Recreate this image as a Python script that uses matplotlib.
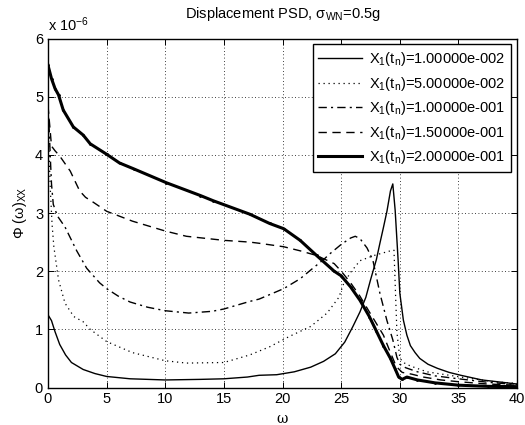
import matplotlib
matplotlib.use("Agg")
import matplotlib.pyplot as plt

plt.rcParams['font.family'] = ['Liberation Sans', 'DejaVu Sans']
plt.rcParams['mathtext.fontset'] = 'custom'
plt.rcParams['mathtext.rm'] = 'Liberation Sans'
plt.rcParams['mathtext.it'] = 'Liberation Sans'

# PSD values in units of 1e-6
x1 = [0, 0.3, 0.6, 1, 1.5, 2, 3, 4, 5, 7, 10, 13, 15, 17, 18, 19.5, 21, 22.4, 23.5, 24.5,
      25.3, 26, 26.6, 27.1, 27.5, 28, 28.3, 28.6, 28.9, 29.2, 29.4, 29.6, 29.85, 30.0, 30.3,
      30.6, 30.9, 31.3, 31.7, 32.4, 33.2, 34.2, 35.2, 37, 40]
y1 = [1.25, 1.15, 0.96, 0.74, 0.56, 0.43, 0.31, 0.24, 0.19, 0.15, 0.13, 0.14, 0.15, 0.18, 0.21,
      0.22, 0.27, 0.35, 0.45, 0.58, 0.78, 1.05, 1.3, 1.55, 1.85, 2.2, 2.48, 2.75, 3.03, 3.38,
      3.5, 3.05, 2.2, 1.62, 1.16, 0.9, 0.72, 0.6, 0.5, 0.4, 0.33, 0.26, 0.21, 0.13, 0.06]

x2 = [0, 0.1, 0.2, 0.35, 0.5, 0.9, 1.45, 2.2, 3.0, 3.6, 5, 7.2, 10, 11.8, 15, 17.2, 18.9,
      20.6, 22.4, 23.8, 24.8, 25.2, 25.8, 26.6, 27.8, 29.2, 29.5, 29.75, 30.0, 30.4, 30.9,
      32.3, 35.2, 38, 40]
y2 = [4.5, 4.0, 3.4, 2.8, 2.42, 1.85, 1.45, 1.22, 1.13, 1.0, 0.79, 0.6, 0.46, 0.42, 0.43,
      0.56, 0.7, 0.88, 1.05, 1.28, 1.55, 1.78, 1.98, 2.18, 2.27, 2.35, 2.36, 0.95, 0.5, 0.42,
      0.37, 0.27, 0.18, 0.1, 0.07]

x3 = [0, 0.1, 0.2, 0.3, 0.45, 0.8, 1.45, 2.45, 3.3, 4.4, 5, 6, 7, 8.5, 10, 12, 14, 15, 17.2,
      18, 20.1, 21.5, 22.4, 23.5, 24.1, 25, 25.8, 26.2, 26.6, 27.2, 27.7, 28.3, 28.9, 29.4,
      29.75, 30.0, 30.5, 31.5, 33, 35, 37.5, 40]
y3 = [4.85, 4.45, 3.95, 3.5, 3.15, 2.95, 2.76, 2.35, 2.05, 1.8, 1.7, 1.57, 1.47, 1.38, 1.32,
      1.28, 1.31, 1.35, 1.48, 1.52, 1.7, 1.87, 2.02, 2.2, 2.31, 2.46, 2.57, 2.6, 2.56, 2.4,
      2.19, 1.62, 1.15, 0.82, 0.52, 0.4, 0.34, 0.27, 0.2, 0.15, 0.09, 0.05]

x4 = [0, 0.15, 0.3, 0.6, 1.0, 1.9, 2.7, 3.2, 3.9, 5, 7.2, 10, 11.8, 15, 17.2, 18, 20.1, 21.5,
      22.9, 24.4, 25.0, 25.8, 26.6, 27.4, 28.0, 28.6, 29.2, 29.7, 30.2, 31, 32, 33.5, 35,
      37.5, 40]
y4 = [4.85, 4.5, 4.15, 4.07, 3.98, 3.72, 3.38, 3.27, 3.18, 3.03, 2.86, 2.69, 2.6, 2.53, 2.5,
      2.48, 2.42, 2.35, 2.27, 2.13, 2.0, 1.8, 1.57, 1.3, 1.1, 0.9, 0.6, 0.36, 0.26, 0.23, 0.18,
      0.13, 0.1, 0.06, 0.04]

x5 = [0, 0.3, 0.6, 0.9, 1.3, 2.16, 3.0, 3.6, 5.0, 6.1, 7.3, 10.1, 13, 14.1, 17.2, 18.9, 20.1,
      21.5, 22.9, 24.4, 25.0, 25.8, 26.6, 27.4, 28.0, 28.6, 29.2, 29.6, 29.9, 30.2, 30.6,
      31.5, 33, 35, 37.5, 40]
y5 = [5.54, 5.31, 5.14, 5.03, 4.77, 4.48, 4.34, 4.19, 4.01, 3.86, 3.76, 3.52, 3.3, 3.21,
      2.98, 2.82, 2.73, 2.53, 2.27, 2.0, 1.92, 1.73, 1.5, 1.22, 0.97, 0.72, 0.5, 0.32, 0.18,
      0.14, 0.18, 0.13, 0.08, 0.04, 0.02, 0.015]

labels = ['1.00000e-002', '5.00000e-002', '1.00000e-001', '1.50000e-001', '2.00000e-001']

fig = plt.figure(figsize=(5.25, 4.25), dpi=100)
ax = fig.add_axes([0.0914, 0.0882, 0.8936, 0.8212])

k = dict(color='black', solid_joinstyle='round', dash_joinstyle='round')
ax.plot(x1, y1, lw=1.0, ls='-', label=r'$\mathregular{X_1(t_n)}$=' + labels[0], **k)
ax.plot(x2, y2, lw=0.9, ls=(0, (1, 3)), label=r'$\mathregular{X_1(t_n)}$=' + labels[1], **k)
ax.plot(x3, y3, lw=1.0, ls=(0, (6, 3, 1.5, 3)), label=r'$\mathregular{X_1(t_n)}$=' + labels[2], **k)
ax.plot(x4, y4, lw=1.0, ls=(0, (6, 4)), label=r'$\mathregular{X_1(t_n)}$=' + labels[3], **k)
ax.plot(x5, y5, lw=2.2, ls='-', marker='.', ms=2, label=r'$\mathregular{X_1(t_n)}$=' + labels[4], **k)

ax.set_xlim(0, 40)
ax.set_ylim(0, 6)
ax.set_xticks(range(0, 41, 5))
ax.set_yticks(range(0, 7))
ax.tick_params(direction='in', top=True, right=True, length=4, width=0.7, labelsize=10.5)
ax.grid(True, ls=(0, (1, 3)), color='black', lw=0.6)
for s in ax.spines.values():
    s.set_linewidth(1.0)

ax.set_title(r'Displacement PSD, σ$_\mathregular{WN}$=0.5g', fontsize=10.5, pad=15)
ax.set_xlabel('ω', fontsize=10, family=['DejaVu Serif'])
ax.set_ylabel(r'Φ (ω)$_\mathregular{XX}$', fontsize=10.5)
ax.text(0.0, 1.012, r'x 10$^\mathregular{-6}$', transform=ax.transAxes, fontsize=10.5,
        ha='left', va='bottom')

leg = ax.legend(loc='upper right', fontsize=10.5, frameon=True, fancybox=False,
                edgecolor='black', framealpha=1, borderaxespad=0.4, handlelength=3.0,
                labelspacing=0.45, borderpad=0.4, handletextpad=0.5)
leg.get_frame().set_linewidth(1.0)

fig.savefig('out.png', dpi=100)
